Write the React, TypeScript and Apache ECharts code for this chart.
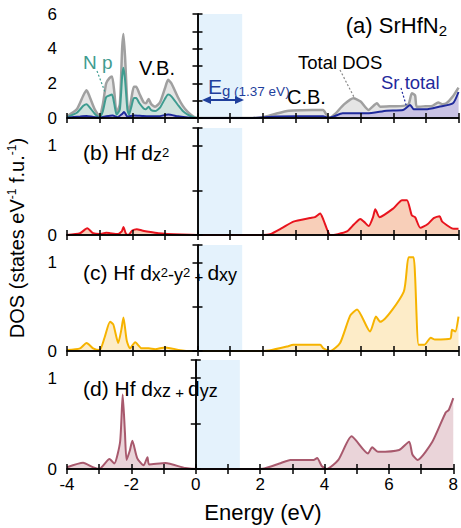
import React, { useEffect, useRef } from "react";
import * as echarts from "echarts";

const FONT = "'Liberation Sans', Arial, Helvetica, sans-serif";

// Energy (eV), DOS pairs
const totalDOS: [number, number][] = [
  [-4, 0.1], [-3.7, 0.5], [-3.5, 1.3], [-3.4, 1.6], [-3.3, 1.2], [-3.15, 0.5], [-3.0, 0.1],
  [-2.9, 0.8], [-2.8, 2.0], [-2.7, 2.3], [-2.62, 2.4], [-2.55, 1.5], [-2.48, 0.3],
  [-2.38, 0.8], [-2.31, 4.0], [-2.27, 4.85], [-2.22, 3.5], [-2.15, 0.8], [-2.1, 0.3],
  [-2.02, 1.2], [-1.95, 1.8], [-1.88, 1.8], [-1.78, 1.4], [-1.65, 0.9], [-1.58, 0.85],
  [-1.5, 1.1], [-1.42, 0.8], [-1.3, 0.65], [-1.15, 0.9], [-1.0, 1.7], [-0.9, 2.2],
  [-0.8, 2.0], [-0.6, 1.2], [-0.45, 0.7], [-0.3, 0.35], [-0.1, 0.05], [0, 0],
  [1.6, 0], [2.0, 0.05], [2.4, 0.25], [2.8, 0.42], [3.2, 0.45], [3.85, 0.46], [3.95, 0.2],
  [4.05, 0], [4.2, 0.2], [4.5, 0.8], [4.78, 1.14], [5.0, 0.95], [5.24, 0.46], [5.5, 0.85],
  [5.6, 0.65], [6.0, 0.68], [6.3, 0.7], [6.47, 0.8], [6.57, 1.43], [6.67, 1.3], [6.72, 0.65],
  [7.0, 0.68], [7.2, 0.7], [7.38, 0.9], [7.5, 0.8], [7.63, 0.85], [7.83, 1.25], [8, 1.75],
];

const nP: [number, number][] = [
  [-4, 0.05], [-3.7, 0.3], [-3.5, 0.7], [-3.4, 0.8], [-3.3, 0.6], [-3.15, 0.25], [-3.0, 0.05],
  [-2.9, 0.4], [-2.8, 1.2], [-2.7, 1.3], [-2.62, 1.35], [-2.55, 0.8], [-2.48, 0.2],
  [-2.38, 0.5], [-2.31, 2.4], [-2.27, 2.9], [-2.22, 2.2], [-2.15, 0.5], [-2.1, 0.2],
  [-2.02, 0.7], [-1.95, 1.15], [-1.88, 1.15], [-1.78, 0.85], [-1.65, 0.55], [-1.58, 0.5],
  [-1.5, 0.65], [-1.42, 0.45], [-1.3, 0.4], [-1.15, 0.6], [-1.0, 1.1], [-0.9, 1.35],
  [-0.8, 1.25], [-0.6, 0.75], [-0.45, 0.4], [-0.3, 0.2], [-0.1, 0.03], [0, 0],
];

const srTotal: [number, number][] = [
  [-4, 0.02], [-3.6, 0.08], [-3.4, 0.12], [-3.2, 0.06], [-3.0, 0.02], [-2.8, 0.1],
  [-2.6, 0.15], [-2.45, 0.05], [-2.3, 0.25], [-2.25, 0.35], [-2.15, 0.08], [-1.95, 0.15],
  [-1.7, 0.12], [-1.5, 0.1], [-1.2, 0.1], [-0.9, 0.2], [-0.6, 0.1], [-0.3, 0.03], [0, 0],
  [1.6, 0], [2.0, 0.03], [2.4, 0.08], [3.0, 0.1], [3.85, 0.1], [4.0, 0.02], [4.16, 0.08],
  [4.45, 0.27], [5.2, 0.27], [5.8, 0.42], [6.3, 0.46], [6.52, 0.75], [6.63, 0.5],
  [7.0, 0.5], [7.4, 0.65], [7.83, 0.85], [8, 1.5],
];

const hfDz2: [number, number][] = [
  [-4, 0], [-3.6, 0.02], [-3.38, 0.075], [-3.2, 0.02], [-3.0, 0.01], [-2.8, 0.025],
  [-2.68, 0.02], [-2.45, 0.01], [-2.32, 0.04], [-2.27, 0.09], [-2.2, 0.02], [-2.12, 0.0],
  [-2.0, 0.05], [-1.86, 0.065], [-1.7, 0.05], [-1.55, 0.04], [-1.2, 0.02], [-0.5, 0.005],
  [0, 0], [2.0, 0], [2.23, 0.01], [2.6, 0.08], [2.94, 0.15], [3.45, 0.19], [3.6, 0.2],
  [3.76, 0.24], [3.86, 0.17], [4.07, 0], [4.3, 0.01], [4.58, 0.04], [4.8, 0.12],
  [4.99, 0.18], [5.1, 0.15], [5.25, 0.1], [5.38, 0.2], [5.45, 0.29], [5.58, 0.2],
  [6.01, 0.3], [6.27, 0.39], [6.42, 0.39], [6.57, 0.22], [6.67, 0.2], [6.83, 0.08],
  [7.05, 0.12], [7.24, 0.19], [7.42, 0.21], [7.5, 0.15], [7.8, 0.075], [8, 0.07],
];

const hfDx2y2Dxy: [number, number][] = [
  [-4, 0.01], [-3.6, 0.03], [-3.4, 0.09], [-3.2, 0.03], [-3.0, 0.01], [-2.85, 0.15],
  [-2.68, 0.33], [-2.58, 0.3], [-2.43, 0.09], [-2.33, 0.25], [-2.27, 0.38], [-2.17, 0.12],
  [-2.07, 0.03], [-1.91, 0.1], [-1.71, 0.03], [-1.5, 0.03], [-1.3, 0.02], [-0.99, 0.04],
  [-0.53, 0.01], [-0.2, 0], [2.0, 0], [2.2, 0.005], [2.74, 0.05], [2.94, 0.07],
  [3.76, 0.07], [3.86, 0.03], [4.07, 0], [4.37, 0.09], [4.68, 0.4], [4.89, 0.47],
  [5.29, 0.22], [5.47, 0.39], [5.6, 0.33], [6.32, 0.67], [6.47, 1.06], [6.62, 1.06],
  [6.67, 0.84], [6.78, 0.07], [6.95, 0.07], [7.15, 0.15], [7.28, 0.13], [7.75, 0.14],
  [7.8, 0.24], [7.9, 0.22], [8, 0.39],
];

const hfDxzDyz: [number, number][] = [
  [-4, 0.02], [-3.5, 0.07], [-3.2, 0.02], [-3.0, 0], [-2.68, 0.11], [-2.53, 0.06],
  [-2.35, 0.3], [-2.27, 0.82], [-2.2, 0.4], [-2.15, 0.1], [-2.05, 0.2], [-1.97, 0.31],
  [-1.82, 0.12], [-1.62, 0.04], [-1.5, 0.13], [-1.45, 0.05], [-0.94, 0.065], [-0.32, 0.01],
  [0.1, 0], [2.0, 0], [2.13, 0.005], [2.6, 0.06], [2.94, 0.1], [3.66, 0.1], [3.77, 0.12],
  [3.92, 0.03], [4.07, 0], [4.43, 0.1], [4.84, 0.36], [5.35, 0.17], [5.48, 0.24],
  [5.66, 0.19], [6.32, 0.21], [6.63, 0.3], [6.73, 0.16], [6.89, 0.1], [7.35, 0.3],
  [7.76, 0.62], [7.86, 0.65], [8, 0.78],
];

const gapBand = [0, 1.37];
const yMaxes = [6, 1.2, 1.2, 1.2];
const yIntervals = [1, 0.5, 0.5, 0.5];

const GRIDS = [
  { top: 14, height: 104 },
  { top: 128, height: 107 },
  { top: 245, height: 106 },
  { top: 360, height: 109 },
];

function App() {
  const ref = useRef<HTMLDivElement>(null);
  useEffect(() => {
    if (!ref.current) return;
    const chart = echarts.init(ref.current, undefined, { renderer: "svg" });
    const axisLine = { show: true, lineStyle: { color: "#000", width: 1.5 } };
    const axisTick = { show: true, inside: true, length: 5, lineStyle: { color: "#000", width: 1.5 } };
    const xAxes: any[] = [];
    const yAxes: any[] = [];
    GRIDS.forEach((_, i) => {
      ["bottom", "top"].forEach((pos) => {
        xAxes.push({
          type: "value", gridIndex: i, position: pos, min: -4, max: 8, interval: 1, z: 10,
          axisLine, axisTick, splitLine: { show: false },
          axisLabel: {
            show: pos === "bottom" && i === 3, margin: 7, fontSize: 17, color: "#000", fontFamily: FONT,
            formatter: (v: number) => (Math.abs(v % 2) < 1e-9 ? String(v) : ""),
          },
        });
      });
      ["left", "right"].forEach((pos) => {
        yAxes.push({
          type: "value", gridIndex: i, position: pos, min: 0, max: yMaxes[i], interval: yIntervals[i], z: 10,
          axisLine, axisTick, splitLine: { show: false },
          axisLabel: {
            show: pos === "left", margin: 10, fontSize: 17, color: "#000", fontFamily: FONT,
            formatter: (v: number) =>
              i === 0 ? (Math.abs(v % 2) < 1e-9 ? String(v) : "") : v === 0 || v === 1 ? String(v) : "",
          },
        });
      });
    });

    const band = () => ({
      silent: true,
      itemStyle: { color: "#e4f2fc" },
      data: [[{ xAxis: gapBand[0] }, { xAxis: gapBand[1] }]],
    });

    const mk = (i: number, data: [number, number][], line: string, fill: string, w = 2, withBand = false, z = 2) => ({
      type: "line", xAxisIndex: 2 * i, yAxisIndex: 2 * i, data, showSymbol: false, smooth: 0.2, z,
      lineStyle: { color: line, width: w }, areaStyle: { color: fill, opacity: 1 },
      markArea: withBand ? band() : undefined,
    });

    const series = [
      mk(0, totalDOS, "#a0a0a0", "#e5e5e5", 2.5, true, 2),
      mk(0, nP, "#3f9c90", "#cfe2dd", 2, false, 3),
      mk(0, srTotal, "#1f2a9c", "#c9c3e4", 2, false, 4),
      mk(1, hfDz2, "#e8141e", "#f8cfb9", 2, true),
      mk(2, hfDx2y2Dxy, "#f6b300", "#fdecc8", 2, true),
      mk(3, hfDxzDyz, "#a8596d", "#ead4d9", 2, true),
    ];

    const txt = (x: number, y: number, text: string, rich: any, align = "left") => ({
      type: "text", x, y, z: 20,
      style: { text, rich, align, verticalAlign: "middle", fontFamily: FONT, fill: "#000" },
    });
    const R = (fs: number, color = "#000", extra: any = {}) => ({ fontSize: fs, fill: color, fontFamily: FONT, ...extra });

    const panelRich = {
      m: R(21, "#000", { lineHeight: 24 }),
      s: R(18, "#000", { verticalAlign: "bottom", lineHeight: 16 }),
      s2: R(13, "#000", { verticalAlign: "middle", lineHeight: 16 }),
      p: R(15, "#000", { verticalAlign: "bottom", lineHeight: 18 }),
    };

    const arrowColor = "#1f3f9c";
    const graphic: any[] = [
      txt(447, 25, "{m|(a) SrHfN}{s|2}", { m: R(22, "#000", { lineHeight: 26 }), s: R(15, "#000", { verticalAlign: "bottom", lineHeight: 15 }) }, "right"),
      txt(83, 62, "{m|N p}", { m: R(19, "#3f9c90") }),
      txt(139, 68, "{m|V.B.}", { m: R(20, "#000") }),
      txt(287, 97, "{m|C.B.}", { m: R(20, "#000") }),
      txt(298, 62, "{m|Total DOS}", { m: R(18.5, "#000") }),
      txt(381, 82, "{m|Sr total}", { m: R(18.5, "#1f2a9c") }),
      txt(208, 86, "{m|E}{s|g}{p| (1.37 eV)}", {
        m: R(21, arrowColor, { lineHeight: 24 }),
        s: R(15, arrowColor, { verticalAlign: "bottom", lineHeight: 15 }),
        p: R(13.5, arrowColor, { verticalAlign: "bottom", lineHeight: 18 }),
      }),
      { type: "line", z: 20, shape: { x1: 208, y1: 100, x2: 238, y2: 100 }, style: { stroke: arrowColor, lineWidth: 2 } },
      { type: "polygon", z: 20, shape: { points: [[202, 100], [211, 96], [211, 104]] }, style: { fill: arrowColor } },
      { type: "polygon", z: 20, shape: { points: [[244, 100], [235, 96], [235, 104]] }, style: { fill: arrowColor } },
      { type: "line", z: 20, shape: { x1: 97, y1: 71, x2: 105, y2: 92 }, style: { stroke: "#3f9c90", lineWidth: 1.2, lineDash: [2, 2] } },
      { type: "line", z: 20, shape: { x1: 340, y1: 70, x2: 355, y2: 99 }, style: { stroke: "#888", lineWidth: 1.2, lineDash: [2, 2] } },
      { type: "line", z: 20, shape: { x1: 401, y1: 88, x2: 407, y2: 108 }, style: { stroke: "#1f2a9c", lineWidth: 1.2, lineDash: [2, 2] } },
      txt(83, 152, "{m|(b) Hf d}{s|z}{s2|2}", panelRich),
      txt(83, 272, "{m|(c) Hf d}{s|x}{s2|2}{s|-y}{s2|2}{p| + }{m|d}{s|xy}", panelRich),
      txt(83, 388, "{m|(d) Hf d}{s|xz}{p| + }{m|d}{s|yz}", panelRich),
      {
        type: "text", x: 17, y: 238, rotation: Math.PI / 2, z: 20,
        style: {
          text: "{m|DOS (states eV}{sup|-1}{m| f.u.}{sup|-1}{m|)}",
          rich: { m: R(20, "#000", { lineHeight: 23 }), sup: R(12, "#000", { verticalAlign: "top", lineHeight: 13 }) },
          align: "center", verticalAlign: "middle", fontFamily: FONT, fill: "#000",
        },
      },
      txt(263, 512, "{m|Energy (eV)}", { m: R(22, "#000") }, "center"),
    ];

    chart.setOption({
      animation: false,
      backgroundColor: "#fff",
      grid: GRIDS.map((g) => ({ left: 67, width: 391.5, top: g.top, height: g.height, show: false })),
      xAxis: xAxes,
      yAxis: yAxes,
      series,
      graphic,
    });
    return () => chart.dispose();
  }, []);
  return <div ref={ref} style={{ position: "absolute", left: 0, top: 0, width: 461, height: 528 }} />;
}

export default App;
